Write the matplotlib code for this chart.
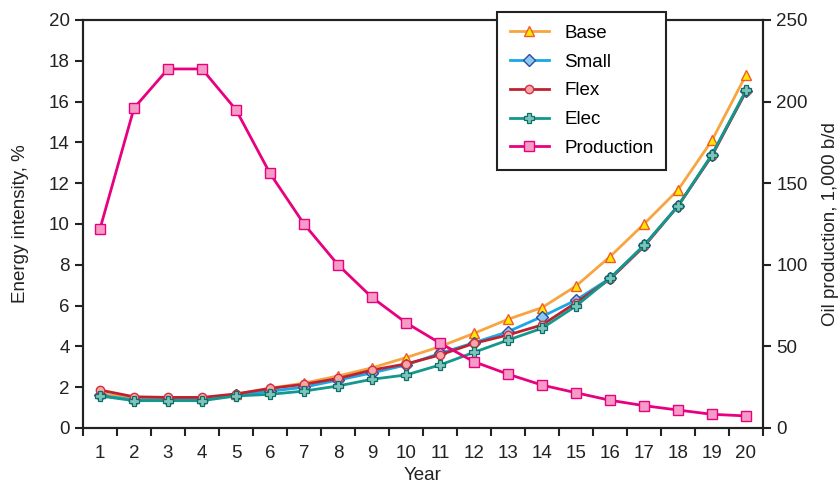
import matplotlib
matplotlib.use("Agg")
import matplotlib.pyplot as plt
from matplotlib.ticker import FixedLocator, NullFormatter

plt.rcParams['font.family'] = ['Liberation Sans', 'DejaVu Sans']

years = list(range(1, 21))
base = [1.7, 1.45, 1.45, 1.45, 1.65, 1.95, 2.2, 2.55, 2.95, 3.45, 3.99, 4.64, 5.33, 5.9, 6.96, 8.4, 10.0, 11.67, 14.1, 17.3]
small = [1.6, 1.38, 1.38, 1.38, 1.6, 1.8, 2.0, 2.35, 2.7, 3.09, 3.66, 4.18, 4.72, 5.46, 6.27, 7.34, 8.95, 10.88, 13.4, 16.5]
flex = [1.86, 1.53, 1.5, 1.5, 1.67, 1.94, 2.14, 2.43, 2.84, 3.14, 3.58, 4.15, 4.56, 5.05, 6.14, 7.3, 8.9, 10.88, 13.35, 16.5]
elec = [1.57, 1.34, 1.34, 1.34, 1.57, 1.65, 1.81, 2.06, 2.39, 2.6, 3.09, 3.71, 4.31, 4.89, 5.98, 7.34, 8.95, 10.88, 13.4, 16.55]
production = [122, 196, 220, 220, 195, 156, 125, 100, 80, 64.5, 52, 40.6, 33, 26.3, 21.6, 17, 13.7, 11, 8.4, 7.4]

fig = plt.figure(figsize=(8.4, 4.84), dpi=100)
ax = fig.add_axes([83/840, 1-428/484, 680/840, 408/484])
ax2 = ax.twinx()

lw = 2.0
ms = 7
fs = 13.5
tc = '#222222'
h1, = ax.plot(years, base, color='#F7A540', lw=lw, marker='^', ms=ms, mfc='#FFE800', mec='#F05A28', mew=1.0, label='Base')
h2, = ax.plot(years, small, color='#1AA7E6', lw=lw, marker='D', ms=ms-1, mfc='#8CC8F0', mec='#2B4FA0', mew=1.0, label='Small')
h3, = ax.plot(years, flex, color='#BE2230', lw=lw, marker='o', ms=ms-1, mfc='#F6A8A8', mec='#D03040', mew=1.0, label='Flex')
h4, = ax.plot(years, elec, color='#14978C', lw=lw, marker='P', ms=ms, mfc='#7CC4BC', mec='#0D6E66', mew=0.9, label='Elec')
h5, = ax2.plot(years, production, color='#E8007F', lw=lw, marker='s', ms=ms, mfc='#F59CC6', mec='#E8007F', mew=1.0, label='Production')

ax.set_xlim(0.5, 20.5)
ax.set_ylim(0, 20)
ax2.set_ylim(0, 250)
ax.set_yticks(range(0, 21, 2))
ax2.set_yticks(range(0, 251, 50))

ax.xaxis.set_major_locator(FixedLocator([x + 0.5 for x in range(0, 21)]))
ax.xaxis.set_major_formatter(NullFormatter())
ax.xaxis.set_minor_locator(FixedLocator(years))
ax.set_xticklabels([str(y) for y in years], minor=True)
ax.tick_params(axis='x', which='minor', length=0, labelsize=fs, pad=12, colors=tc)
ax.tick_params(axis='x', which='major', length=6, width=1.5, direction='out', color=tc)
ax.tick_params(axis='y', length=6, width=1.5, direction='out', labelsize=fs, colors=tc)
ax2.tick_params(axis='y', length=6, width=1.5, direction='out', labelsize=fs, colors=tc)

for a in (ax, ax2):
    for s in a.spines.values():
        s.set_linewidth(1.5)
        s.set_color(tc)

ax.set_xlabel('Year', fontsize=fs, color=tc, labelpad=4)
ax.set_ylabel('Energy intensity, %', fontsize=fs, color=tc, labelpad=14)
ax2.set_ylabel('Oil production, 1,000 b/d', fontsize=fs, color=tc, labelpad=10)

leg = ax2.legend(handles=[h1, h2, h3, h4, h5], loc='upper left',
                 bbox_to_anchor=(497/840, 1-12/484), bbox_transform=fig.transFigure,
                 borderaxespad=0, fancybox=False, framealpha=1, edgecolor=tc,
                 fontsize=fs, handlelength=2.1, labelspacing=0.62, borderpad=0.68, handletextpad=0.8)
leg.get_frame().set_linewidth(1.5)
leg.set_zorder(10)

fig.savefig('out.png', dpi=100)
